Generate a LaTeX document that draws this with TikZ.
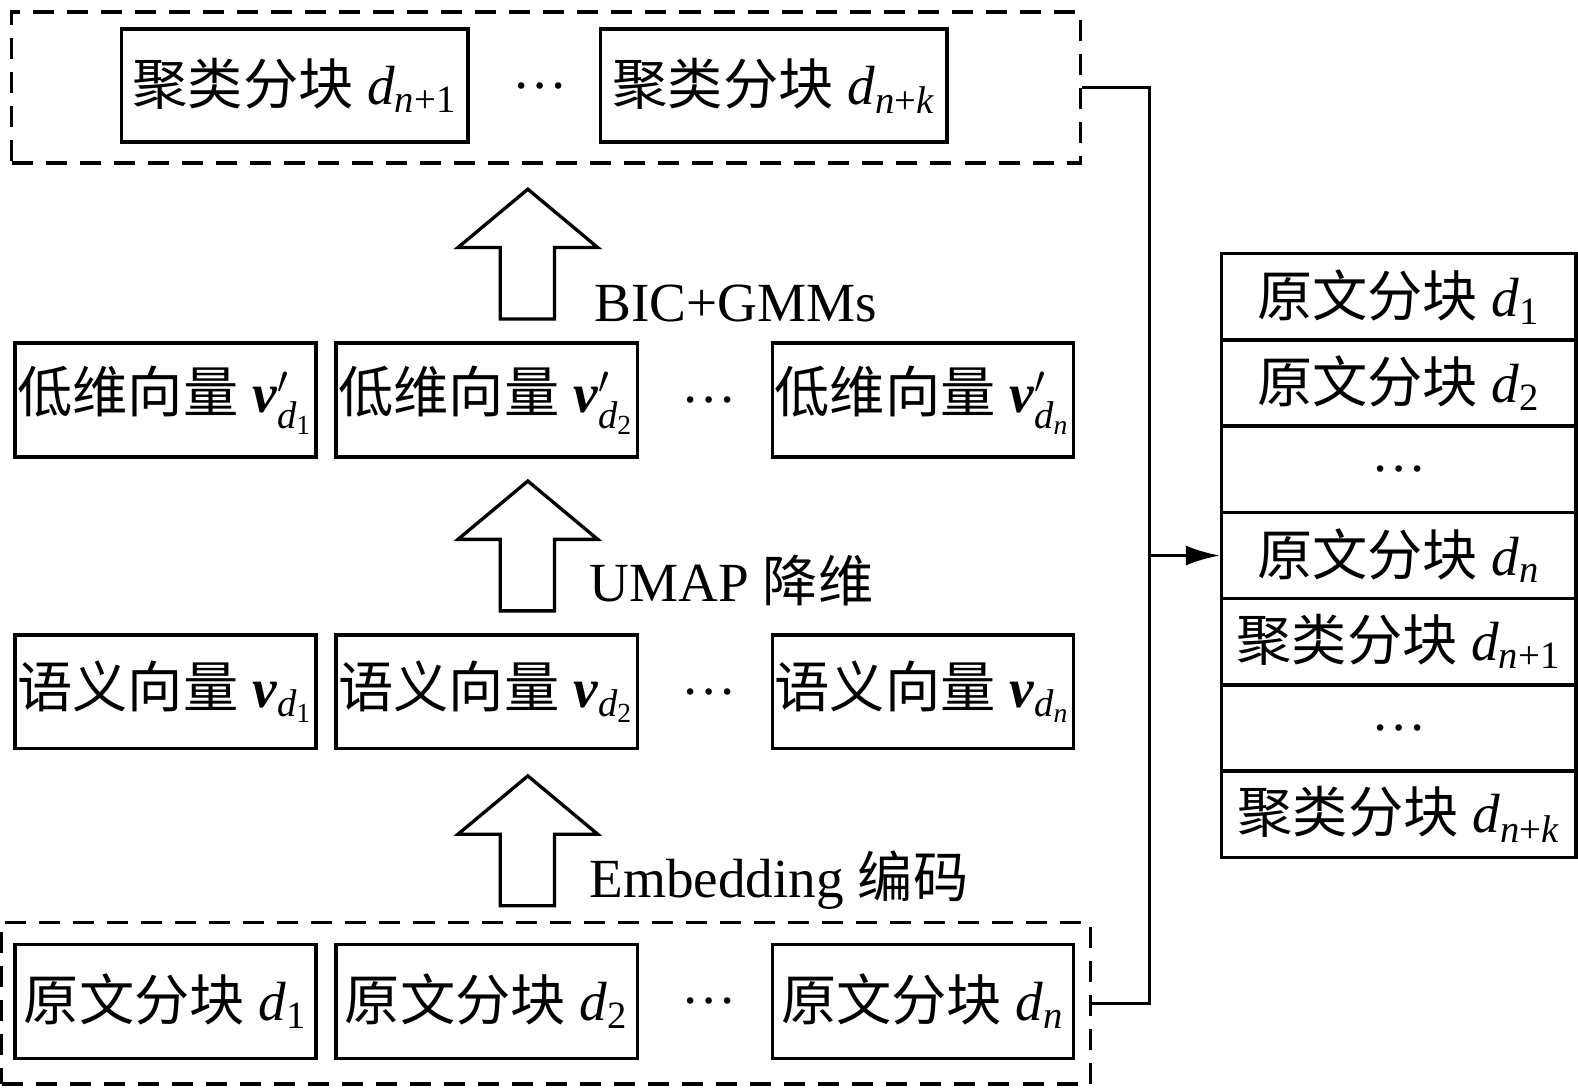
\documentclass[tikz,border=0pt]{standalone}
\usepackage{fontspec}
\usepackage{amsmath}
\setmainfont{Liberation Serif}
\newfontfamily\cjk{Noto Sans CJK SC}
\usetikzlibrary{arrows.meta}
\usetikzlibrary{positioning}
\tikzset{every node/.style={font=\fontsize{15.7pt}{19pt}\selectfont}, % Font for all texts
chunk/.style={ % Sets the properties for each small box
draw,
line width=0.95pt,
inner sep=0pt,
minimum width=3.009cm,
minimum height=1.137cm},
cell/.style={ % Rows of the result list
draw,
line width=0.95pt,
inner sep=0pt,
minimum width=3.542cm,
minimum height=0.862cm},
group/.style={ % Dashed frame round a row of boxes
draw,
line width=0.95pt,
dash pattern=on 0.21cm off 0.13cm,
inner sep=0pt},
label/.style={ % Texts beside the block arrows
anchor=base west,
inner sep=0pt},
link/.style={ % Plain connecting lines
draw,
line width=0.95pt}}
\newcommand{\dd}[1]{$\textit{d}_{#1}$}
\newcommand{\yw}[1]{{\cjk 原文分块} \dd{#1}}
\newcommand{\jl}[1]{{\cjk 聚类分块} \dd{#1}}
\newcommand{\vv}[2]{$\textbf{\textit{v}}#1_{\textit{d}_{#2}}$}

\begin{document}
\begin{tikzpicture}[x=0.010063cm,y=-0.010063cm]
\useasboundingbox (0,0) rectangle (1568,1080.2);
% dashed frames
\node[group, minimum width=10.677cm, minimum height=1.509cm] (top) at (542.5,87) {};
\node[group, minimum width=10.878cm, minimum height=1.61cm] (bot) at (542.5,997) {};
% clustered chunks
\node[chunk, minimum width=3.462cm, minimum height=1.127cm] (c1) at (293,85) {\jl{\textit{n}\text{+1}}};
\node (cdots) at (537,85) {…};
\node[chunk, minimum width=3.462cm, minimum height=1.127cm] (ck) at (769,85) {\jl{\textit{n}\text{+}\textit{k}}};
% low-dimensional vectors
\node[chunk] (l1) at (164.5,397.5) {{\cjk 低维向量} \vv{'}{\text{1}}};
\node[chunk] (l2) at (483.5,397.5) {{\cjk 低维向量} \vv{'}{\text{2}}};
\node (ldots) at (705,397.5) {…};
\node[chunk] (ln) at (917,397.5) {{\cjk 低维向量} \vv{'}{\textit{n}}};
% semantic vectors
\node[chunk] (s1) at (164.5,687.5) {{\cjk 语义向量} \vv{}{\text{1}}};
\node[chunk] (s2) at (483.5,687.5) {{\cjk 语义向量} \vv{}{\text{2}}};
\node (sdots) at (705,687.5) {…};
\node[chunk] (sn) at (917,687.5) {{\cjk 语义向量} \vv{}{\textit{n}}};
% original chunks
\node[chunk] (o1) at (164.5,995) {\yw{\text{1}}};
\node[chunk] (o2) at (483.5,995) {\yw{\text{2}}};
\node (odots) at (705,995) {…};
\node[chunk] (on) at (917,995) {\yw{\textit{n}}};
% block arrows
\foreach \t in {188,478,771}
\draw[line width=0.95pt] (524.5,\t) -- (594,\t+58) -- (551,\t+58) -- (551,\t+129)
-- (497,\t+129) -- (497,\t+58) -- (455,\t+58) -- cycle;
\node[label] (bic) at (590,319) {BIC+GMMs};
\node[label] (umap) at (585,598) {UMAP {\cjk 降维}};
\node[label] (emb) at (585,892) {Embedding {\cjk 编码}};
% result list
\node[cell] (r1) at (1390,294.9) {\yw{\text{1}}};
\node[cell] (r2) at (1390,380.6) {\yw{\text{2}}};
\node[cell] (r3) at (1390,466.3) {…};
\node[cell] (r4) at (1390,552) {\yw{\textit{n}}};
\node[cell] (r5) at (1390,637.7) {\jl{\textit{n}\text{+1}}};
\node[cell] (r6) at (1390,723.4) {…};
\node[cell] (r7) at (1390,809.1) {\jl{\textit{n}\text{+}\textit{k}}};
% connectors
\coordinate (j) at (1142,552);
\draw[link] (top.east) -| (j) |- (bot.east);
\draw[link, -{Latex[length=0.34cm,width=0.2cm]}] (j) -- (r4.west);
\end{tikzpicture}
\end{document}
